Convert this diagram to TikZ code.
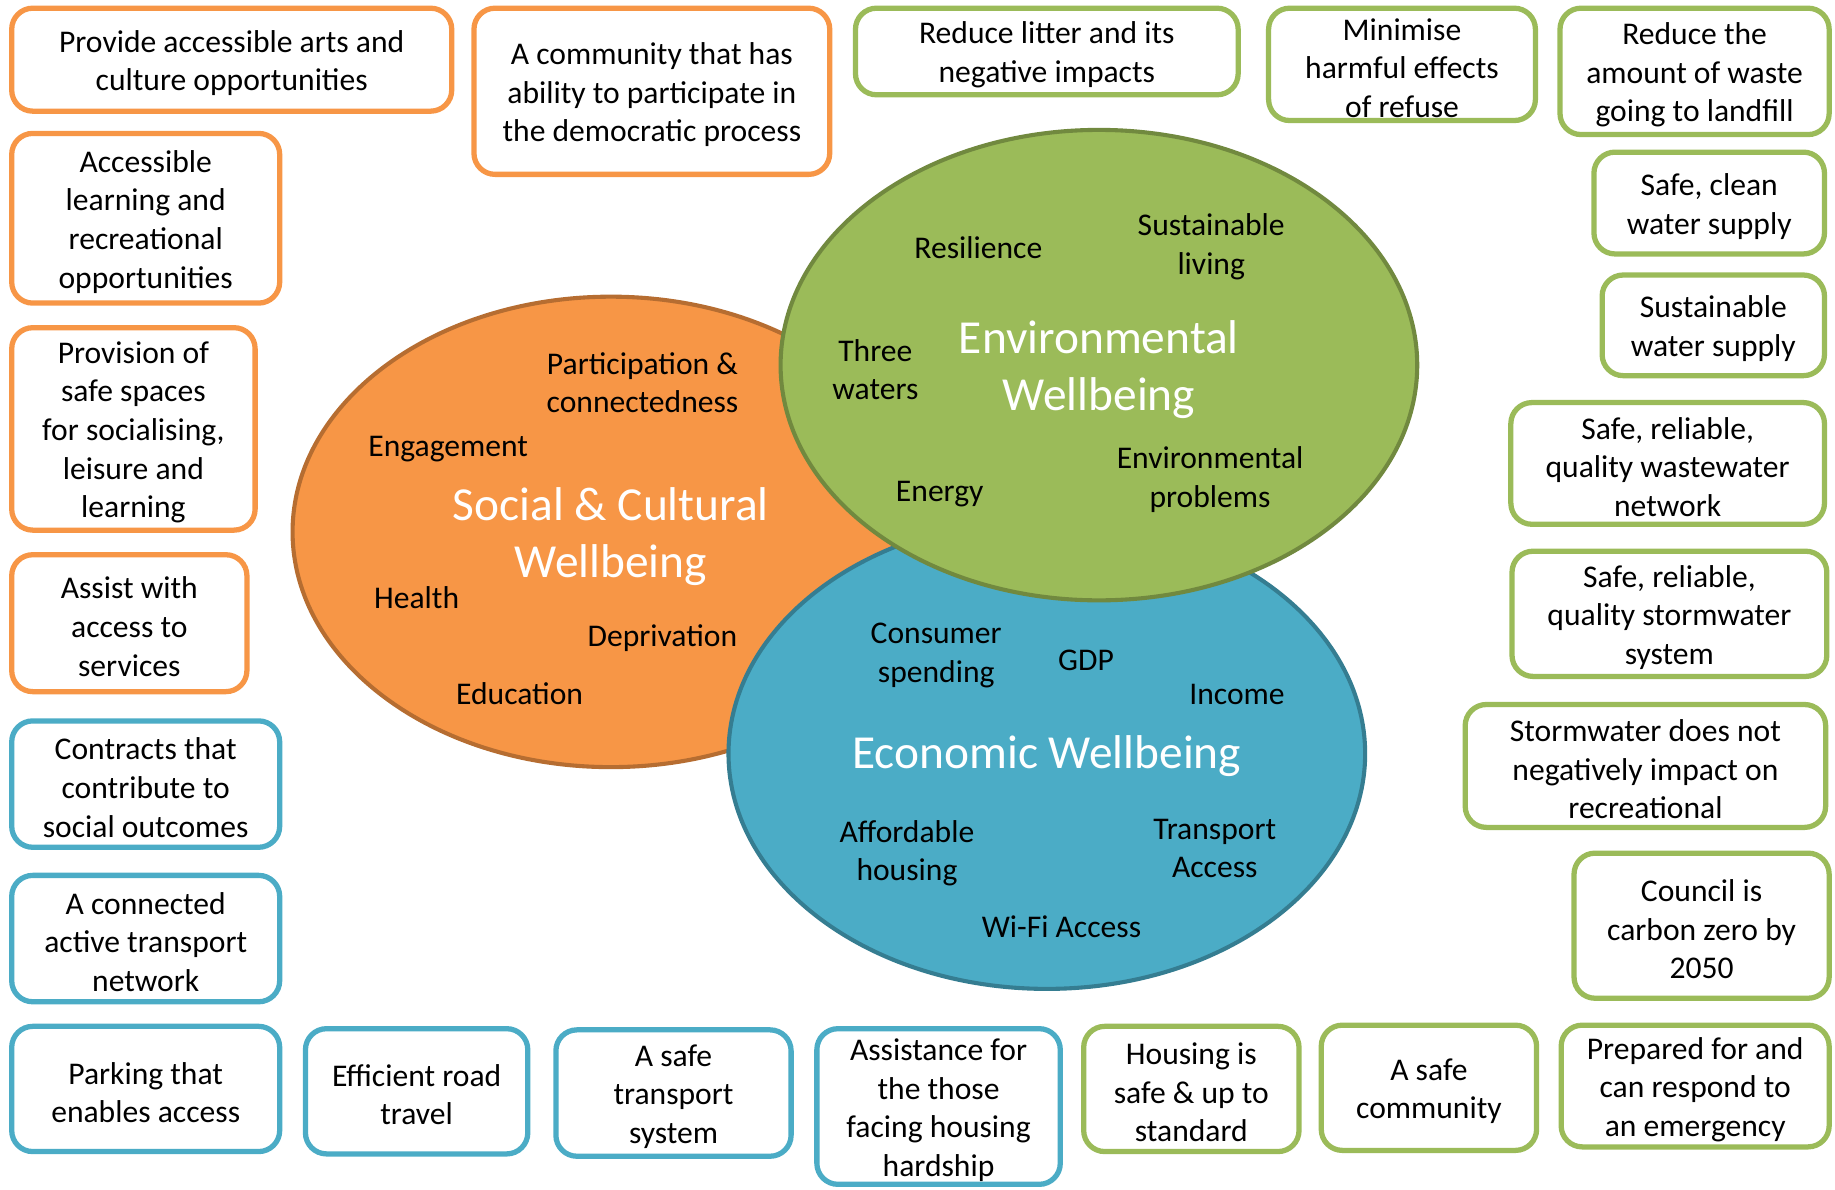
\documentclass[tikz,border=0pt]{standalone}
\usepackage{fontspec}
\setmainfont{Carlito}
\usetikzlibrary{shapes.geometric}
\definecolor{orangeC}{HTML}{F79646}
\definecolor{orangeD}{HTML}{B66D31}
\definecolor{greenC}{HTML}{9BBB59}
\definecolor{greenD}{HTML}{71893F}
\definecolor{blueC}{HTML}{4BACC6}
\definecolor{blueD}{HTML}{357D91}
% a framed outcome: box node plus its caption, lowered a little for optical centring
\newcommand{\outcome}[7]{%
  \node[#2, minimum width=#5, minimum height=#6] (#1) at (#3,#4) {};
  \node[term] (#1-t) at (#3,#4+3) {#7};}
\begin{document}
\begin{tikzpicture}[x=1pt,y=-1pt,
  card/.style={draw, line width=4.5pt, rounded corners=18pt, fill=white, inner sep=0pt},
  socbox/.style={card, draw=orangeC},
  ecobox/.style={card, draw=blueC},
  envbox/.style={card, draw=greenC},
  blob/.style={ellipse, line width=3.5pt, inner sep=0pt, minimum width=544pt,
    minimum height=402pt},
  title/.style={align=center, inner sep=0pt, text=white, font=\fontsize{40.5}{49}\selectfont},
  term/.style={align=center, inner sep=0pt, font=\fontsize{27}{33}\selectfont, text=black}
]
\useasboundingbox (0,0) rectangle (1568,1016);

% the three wellbeing areas
\node[blob, fill=orangeC, draw=orangeD] (social) at (522,454.5) {};
\node[blob, fill=blueC, draw=blueD] (economic) at (894.5,644) {};
\node[blob, fill=greenC, draw=greenD] (environ) at (939,312) {};
\node[title] (social-t) at (522,458.5) {Social \& Cultural\\Wellbeing};
\node[title] (economic-t) at (894.5,646) {Economic Wellbeing};
\node[title] (environ-t) at (939,316) {Environmental\\Wellbeing};

% social & cultural terms
\node[term] (t1) at (549,327) {Participation \&\\connectedness};
\node[term] (t2) at (383,384) {Engagement};
\node[term] (t3) at (356,511) {Health};
\node[term] (t4) at (566,545) {Deprivation};
\node[term] (t5) at (444,593) {Education};

% environmental terms
\node[term] (t6) at (836,212) {Resilience};
\node[term] (t7) at (1035,211) {Sustainable\\living};
\node[term] (t8) at (748,316) {Three\\waters};
\node[term] (t9) at (803,422) {Energy};
\node[term] (t10) at (1034,410) {Environmental\\problems};

% economic terms
\node[term] (t11) at (800,560) {Consumer\\spending};
\node[term] (t12) at (928,564) {GDP};
\node[term] (t13) at (1057,593) {Income};
\node[term] (t14) at (775,729) {Affordable\\housing};
\node[term] (t15) at (1038,725) {Transport\\Access};
\node[term] (t16) at (907,792) {Wi-Fi Access};

% social & cultural outcomes
\outcome{b1}{socbox}{198}{51}{376}{88}{Provide accessible arts and\\culture opportunities}
\outcome{b2}{socbox}{557}{78}{304}{142}{A community that has\\ability to participate in\\the democratic process}
\outcome{b3}{socbox}{124.5}{186.5}{229}{145}{Accessible\\learning and\\recreational\\opportunities}
\outcome{b4}{socbox}{114}{366.5}{208}{173}{Provision of\\safe spaces\\for socialising,\\leisure and\\learning}
\outcome{b5}{socbox}{110.5}{532.5}{201}{117}{Assist with\\access to\\services}

% economic outcomes
\outcome{b6}{ecobox}{124.5}{670}{229}{108}{Contracts that\\contribute to\\social outcomes}
\outcome{b7}{ecobox}{124.5}{802}{229}{108}{A connected\\active transport\\network}
\outcome{b8}{ecobox}{124.5}{930.5}{229}{107}{Parking that\\enables access}
\outcome{b9}{ecobox}{356}{932.5}{190}{107}{Efficient road\\travel}
\outcome{b10}{ecobox}{575.5}{934}{201}{108}{A safe\\transport\\system}
\outcome{b11}{ecobox}{802}{945.5}{208}{133}{Assistance for\\the those\\facing housing\\hardship}

% environmental outcomes
\outcome{b12}{envbox}{1018}{930.5}{184}{107}{Housing is\\safe \& up to\\standard}
\outcome{b13}{envbox}{1221}{929.5}{184}{107}{A safe\\community}
\outcome{b14}{envbox}{1448.5}{928}{229}{104}{Prepared for and\\can respond to\\an emergency}
\outcome{b15}{envbox}{1454}{791}{218}{124}{Council is\\carbon zero by\\2050}
\outcome{b16}{envbox}{1406}{654.5}{308}{105}{Stormwater does not\\negatively impact on\\recreational}
\outcome{b17}{envbox}{1426.5}{524.5}{269}{107}{Safe, reliable,\\quality stormwater\\system}
\outcome{b18}{envbox}{1425}{396}{268}{104}{Safe, reliable,\\quality wastewater\\network}
\outcome{b19}{envbox}{1464}{278}{190}{86}{Sustainable\\water supply}
\outcome{b20}{envbox}{1460.5}{173.5}{197}{87}{Safe, clean\\water supply}
\outcome{b21}{envbox}{1448}{61}{230}{108}{Reduce the\\amount of waste\\going to landfill}
\outcome{b22}{envbox}{1198}{55}{228}{96}{Minimise\\harmful effects\\of refuse}
\outcome{b23}{envbox}{894.5}{44}{327}{74}{Reduce litter and its\\negative impacts}
\end{tikzpicture}
\end{document}
